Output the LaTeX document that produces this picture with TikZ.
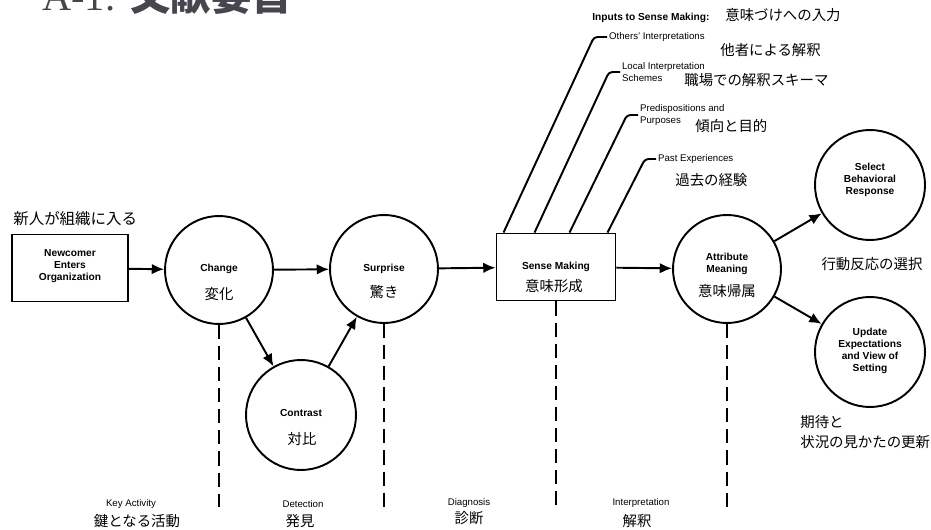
\documentclass[tikz,border=0pt]{standalone}
\usepackage{fontspec}
\setmainfont{Liberation Sans}
\newfontfamily\jafont{Noto Sans CJK JP}
\newfontfamily\titlefont{Liberation Serif}
\usetikzlibrary{arrows.meta}
\definecolor{titlegray}{HTML}{46464F}

\tikzset{
	stage/.style={circle, draw, line width=1.1pt, minimum size=2.16cm, inner sep=0pt},
	block/.style={rectangle, draw, line width=1.1pt, minimum width=2.32cm, minimum height=1.34cm, inner sep=0pt},
	flow/.style={line width=1.1pt, -{Latex[length=7pt,width=6pt]}},
	feed/.style={line width=1.1pt, rounded corners=2pt},
	guide/.style={line width=1.1pt, dash pattern=on 8pt off 4pt},
	en/.style={font=\fontsize{5.8}{6.9}\selectfont\bfseries, align=center, inner sep=0pt},
	note/.style={font=\fontsize{5.5}{6.8}\selectfont, align=left, inner sep=1pt},
	ja/.style={font=\fontsize{8.2}{11.8}\selectfont\jafont, inner sep=0pt}
}

\begin{document}
\begin{tikzpicture}[x=0.02cm,y=-0.02cm]
	\useasboundingbox (0,0) rectangle (931,530);
	
	\node[anchor=base west, text=titlegray, inner sep=0pt, font=\fontsize{23}{26}\selectfont] (title) at (42,11) {{\titlefont A-1.} {\jafont\bfseries 文献要旨}};
	
	\node[block] (nc) at (70,268) {};
	\node[en] at (70,266) {Newcomer\\Enters\\Organization};
	\node[ja, anchor=west, font=\fontsize{8.8}{11}\selectfont\jafont] at (13,219) {新人が組織に入る};
	
	\node[stage] (chg) at (219,270) {};
	\node[en] at (219,269) {Change};
	\node[ja] at (219,294) {変化};
	
	\node[stage, minimum size=2.2cm] (con) at (301,415) {};
	\node[en] at (301,413) {Contrast};
	\node[ja] at (302,439) {対比};
	
	\node[stage] (sur) at (384,269) {};
	\node[en] at (384,269) {Surprise};
	\node[ja] at (384,292) {驚き};
	
	\node[block, minimum width=2.38cm] (sm) at (556,267) {};
	\node[en] at (556,267) {Sense Making};
	\node[ja] at (554,286) {意味形成};
	
	\node[stage] (att) at (727,269) {};
	\node[en] at (727,264) {Attribute\\Meaning};
	\node[ja] at (727,291) {意味帰属};
	
	\node[stage, minimum size=2.2cm] (sel) at (870,185) {};
	\node[en] at (870,180) {Select\\Behavioral\\Response};
	\node[ja] at (872,264) {行動反応の選択};
	
	\node[stage, minimum size=2.2cm] (upd) at (870,352) {};
	\node[en] at (870,351) {Update\\Expectations\\and View of\\Setting};
	\node[ja, anchor=west, align=left] at (800,432) {期待と\\状況の見かたの更新};
	
	\node[en, anchor=west] at (592,18) {Inputs to Sense Making:};
	\node[ja, anchor=west] at (725,15) {意味づけへの入力};
	
	\node[note, anchor=west] (oth) at (607,37) {Others' Interpretations};
	\node[ja, anchor=west] at (720,50) {他者による解釈};
	\node[note, anchor=west] (lis) at (620,72) {Local Interpretation\\Schemes};
	\node[ja, anchor=west] at (684,80) {職場での解釈スキーマ};
	\node[note, anchor=west] (pre) at (638,115) {Predispositions and\\Purposes};
	\node[ja, anchor=west] at (695,126) {傾向と目的};
	\node[note, anchor=west] (pas) at (656,159) {Past Experiences};
	\node[ja, anchor=west] at (675,180) {過去の経験};
	
	\draw[feed] ([xshift=0.16cm]sm.north west) -- (594,37) -- (oth.west);
	\draw[feed] ([xshift=0.78cm]sm.north west) -- (609,72) -- (lis.west);
	\draw[feed] ([xshift=1.48cm]sm.north west) -- (627,115) -- (pre.west);
	\draw[feed] ([xshift=2.24cm]sm.north west) -- (645,159) -- (pas.west);
	
	\draw[flow] (nc) -- (chg);
	\draw[flow] (chg) -- (sur);
	\draw[flow] (chg) -- (con);
	\draw[flow] (con) -- (sur);
	\draw[flow] (sur) -- (sm);
	\draw[flow] (sm) -- (att);
	\draw[flow] (att) -- (sel);
	\draw[flow] (att) -- (upd);
	
	\coordinate (base) at (0,507);
	\draw[guide] (chg) -- (chg |- base);
	\draw[guide] (sur) -- (sur |- base);
	\draw[guide] (sm) -- (sm |- base);
	\draw[guide] (att) -- (att |- base);
	
	\node[note, align=center] at (131,504) {Key Activity};
	\node[ja] at (137,521) {鍵となる活動};
	\node[note, align=center] at (303,504) {Detection};
	\node[ja] at (300,521) {発見};
	\node[note, align=center] at (469,503) {Diagnosis};
	\node[ja] at (469,518) {診断};
	\node[note, align=center] at (641,503) {Interpretation};
	\node[ja] at (637,521) {解釈};
\end{tikzpicture}
\end{document}
